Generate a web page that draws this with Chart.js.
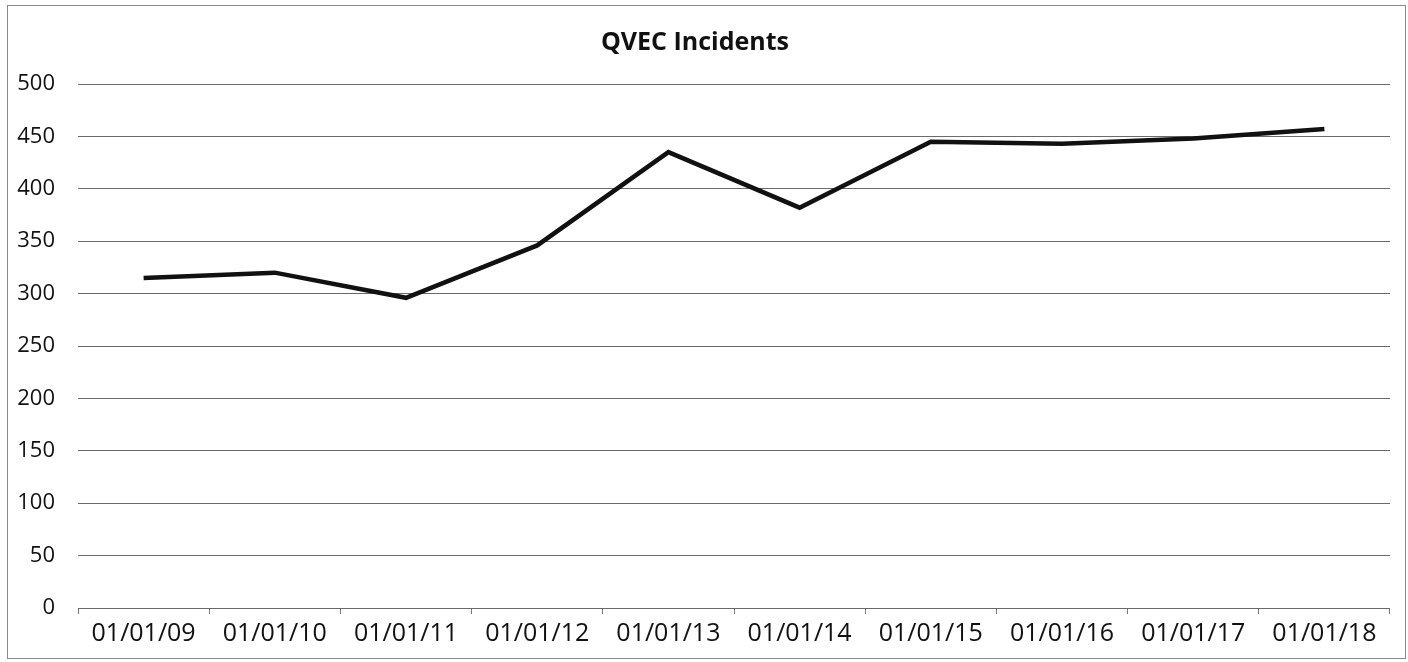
<!DOCTYPE html>
<html>
<head>
<meta charset="utf-8">
<script src="https://cdn.jsdelivr.net/npm/chart.js@4"></script>
<style>
  html, body { margin: 0; padding: 0; background: #fff; }
  #wrap { width: 1408px; height: 662px; }
</style>
</head>
<body>
<div id="wrap"><canvas id="myChart"></canvas></div>
<script>
var categories = ['01/01/09', '01/01/10', '01/01/11', '01/01/12', '01/01/13',
                  '01/01/14', '01/01/15', '01/01/16', '01/01/17', '01/01/18'];
var incidents = [315, 320, 296, 346, 435, 382, 445, 443, 448, 457];
var yTicks = [0, 50, 100, 150, 200, 250, 300, 350, 400, 450, 500];

// frame round the whole chart, like the spreadsheet chart box
var frame = {
    id: 'frame',
    afterDraw: function(chart){
        var ctx = chart.ctx;
        ctx.save();
        ctx.strokeStyle = '#8a8a8a';
        ctx.lineWidth = 1;
        ctx.strokeRect(7.5, 5.5, 1398, 653);
        ctx.restore();
    }
};

document.addEventListener('DOMContentLoaded', function(){
    var data = {
        labels: categories,
        datasets: [{
            label: 'QVEC Incidents',
            data: incidents,
            borderColor: '#111',
            borderWidth: 4.5,
            pointRadius: 0,
            tension: 0,
            fill: false
        }]
    };
    var options = {
        responsive: false,
        animation: false,
        layout: { padding: { left: 0, right: 18, top: 0, bottom: 0 } },
        plugins: {
            legend: { display: false },
            tooltip: { enabled: false },
            title: {
                display: true,
                text: 'QVEC Incidents',
                color: '#111',
                font: { family: 'Open Sans', size: 25, weight: 'bold', lineHeight: 1.2 },
                padding: { top: 28, bottom: 26 }
            }
        },
        scales: {
            x: {
                offset: true,
                grid: {
                    display: true,
                    drawOnChartArea: false,
                    drawTicks: true,
                    tickLength: 6,
                    offset: true,
                    color: '#777'
                },
                border: { display: false },
                ticks: {
                    color: '#111',
                    padding: 5,
                    maxRotation: 0,
                    autoSkip: false,
                    font: { family: 'Open Sans', size: 25 }
                },
                afterFit: function(scale){ scale.height = 54; }
            },
            y: {
                min: 0,
                max: 500,
                afterBuildTicks: function(scale){
                    scale.ticks = yTicks.map(function(v){ return { value: v }; });
                },
                grid: { color: '#6a6a6a', lineWidth: 1, drawTicks: false },
                border: { display: false },
                ticks: {
                    color: '#111',
                    padding: 23,
                    font: { family: 'Open Sans', size: 22 }
                },
                afterFit: function(scale){ scale.width = 78; }
            }
        }
    };

    var canvas = document.getElementById('myChart');
    canvas.width = 1408;
    canvas.height = 662;
    var ctx = canvas.getContext('2d');
    var myChart = new Chart(ctx, {
        type: 'line',
        data: data,
        options: options,
        plugins: [frame]
    });
});
</script>
</body>
</html>
